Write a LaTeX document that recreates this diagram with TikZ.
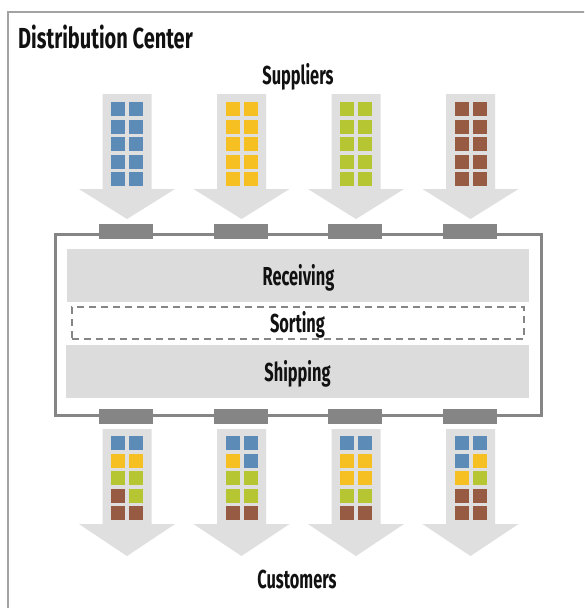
\documentclass[tikz,border=0pt]{standalone}
\usepackage{fontspec}
\newfontfamily\lblfont[FakeStretch=0.63]{Fira Sans}
\newfontfamily\titlefont[FakeStretch=0.69]{Fira Sans}
\definecolor{cB}{HTML}{5B8BB6}
\definecolor{cY}{HTML}{F6BF22}
\definecolor{cG}{HTML}{B6C532}
\definecolor{cR}{HTML}{975A43}
\definecolor{arrowgray}{HTML}{DFDFDF}
\definecolor{bandgray}{HTML}{DCDCDC}
\definecolor{framegray}{HTML}{858585}
\definecolor{bordergray}{HTML}{A3A3A3}
\definecolor{ink}{HTML}{111111}
\begin{document}
\begin{tikzpicture}[x=1pt,y=-1pt,
  lbl/.style={font=\lblfont\bfseries\fontsize{26}{26}\selectfont, text=ink, inner sep=0pt, anchor=base},
  titlelbl/.style={lbl, font=\titlefont\bfseries\fontsize{29}{29}\selectfont, anchor=base west},
  dock/.style={fill=framegray, minimum width=54pt, minimum height=15pt, inner sep=0pt},
  band/.style={fill=bandgray, inner sep=0pt},
  sortbox/.style={draw=framegray, line width=1.6pt, dash pattern=on 7pt off 5pt, inner sep=0pt},
  bigarrow/.style={fill=arrowgray}]
\useasboundingbox (0,0) rectangle (584,608);
\clip (0,0) rectangle (584,608);
\fill[white] (0,0) rectangle (584,608);
\draw[bordergray, line width=2pt] (8,12) rectangle (600,620);

% title
\node[titlelbl] (title) at (18,48) {Distribution Center};
\node[lbl] (sup) at (298,84) {Suppliers};
\node[lbl] (cus) at (297,588) {Customers};

% supplier arrows
\foreach \cx/\c in {127/cB,241.5/cY,356/cG,470.5/cR}{
  \fill[bigarrow] (\cx-24.5,94) -- (\cx+24.5,94) -- (\cx+24.5,189) -- (\cx+48,189) -- (\cx,219) -- (\cx-48,189) -- (\cx-24.5,189) -- cycle;
  \foreach \r in {0,...,4}{
    \fill[\c] (\cx-16,102+17.6*\r) rectangle ++(14,14);
    \fill[\c] (\cx+2,102+17.6*\r) rectangle ++(14,14);
  }
}

% customer arrows
\foreach \cx/\cols in {127/{cB,cB,cY,cY,cG,cG,cR,cG,cR,cR},241.5/{cB,cB,cY,cB,cG,cG,cG,cG,cR,cR},356/{cB,cB,cY,cY,cY,cY,cG,cG,cR,cR},470.5/{cB,cB,cB,cY,cY,cG,cR,cR,cR,cR}}{
  \fill[bigarrow] (\cx-24.5,429) -- (\cx+24.5,429) -- (\cx+24.5,524) -- (\cx+48,524) -- (\cx,556) -- (\cx-48,524) -- (\cx-24.5,524) -- cycle;
  \foreach \c [count=\i from 0] in \cols {
    \pgfmathtruncatemacro\row{int(\i/2)}
    \pgfmathtruncatemacro\col{mod(\i,2)}
    \fill[\c] (\cx-16+18*\col,436+17.6*\row) rectangle ++(14,14);
  }
}

% building frame
\draw[framegray, line width=3pt] (55,234) rectangle (541,415);
\foreach \cx [count=\k] in {126,241,355,470}{
  \node[dock] (dt\k) at (\cx,231.5) {};
  \node[dock] (db\k) at (\cx,416.5) {};
}

% zones
\node[band, minimum width=462pt, minimum height=53pt] (recvband) at (298,275.5) {};
\node[sortbox, minimum width=452pt, minimum height=32pt] (sortband) at (298,323) {};
\node[band, minimum width=463pt, minimum height=53pt] (shipband) at (297.5,371.5) {};
\node[lbl] (rec) at (298.5,285) {Receiving};
\node[lbl] (sor) at (297.5,332) {Sorting};
\node[lbl] (shi) at (297.5,381) {Shipping};
\end{tikzpicture}
\end{document}
